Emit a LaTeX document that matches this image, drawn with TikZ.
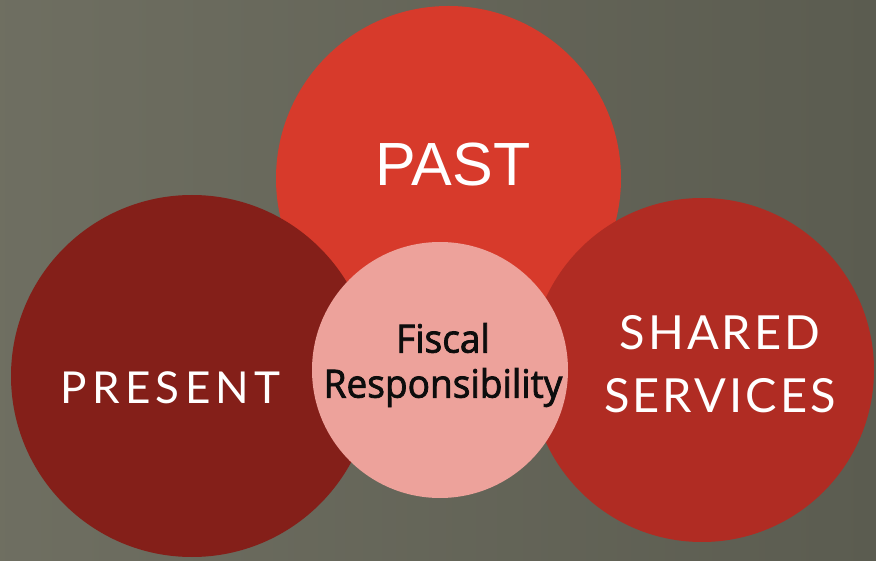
\documentclass[tikz,border=0pt]{standalone}
\usepackage{fontspec}
\setmainfont{Liberation Sans}
\newfontfamily\spacedfont[LetterSpace=12]{Lato}
\newfontfamily\sharedfont[LetterSpace=6.5]{Lato}
\newfontfamily\fiscalfont[FakeStretch=0.95, FakeBold=2]{Open Sans}
\usetikzlibrary{positioning}

\definecolor{bggray}{HTML}{676759}
\definecolor{bgdark}{HTML}{5B5C50}
\definecolor{pastred}{HTML}{D73A2B}
\definecolor{presentred}{HTML}{841F19}
\definecolor{sharedred}{HTML}{B02C23}
\definecolor{fiscalpink}{HTML}{EDA29B}

\begin{document}
\begin{tikzpicture}[
    x=1pt, y=-1pt,
    bubble/.style={circle, inner sep=0pt, draw=none},
    bigtext/.style={text=white, align=center},
    midtext/.style={text=black!95, align=center}
]

% Background, fixes the picture size
\useasboundingbox (0,0) rectangle (876,561);
\shade[left color=bggray!95!white, right color=bgdark] (0,0) rectangle (876,561);

\begin{scope}
\clip (0,0) rectangle (876,561);

% Past
\node[bubble, fill=pastred, minimum size=345pt] (past) at (448.5,178.5) {};
\node[bigtext, font=\fontsize{61}{61}\selectfont] (pastlabel) at (453,165) {PAST};

% Present
\node[bubble, fill=presentred, minimum size=362pt] (present) at (192,376) {};
\node[bigtext, font=\spacedfont\fontsize{44}{44}\selectfont] (presentlabel) at (170.5,388) {PRESENT};

% Shared services
\node[bubble, fill=sharedred, minimum size=344pt] (shared) at (702,370) {};
\node[bigtext, font=\sharedfont\fontsize{47}{63}\selectfont] (sharedlabel) at (720,364) {SHARED\\SERVICES};

% Fiscal responsibility in the middle
\node[bubble, fill=fiscalpink, minimum size=256pt] (fiscal) at (440,370) {};
\node[midtext, font=\fiscalfont\fontsize{39}{45}\selectfont] (fiscallabel) at (443,365) {Fiscal\\Responsibility};
\end{scope}

\end{tikzpicture}
\end{document}
